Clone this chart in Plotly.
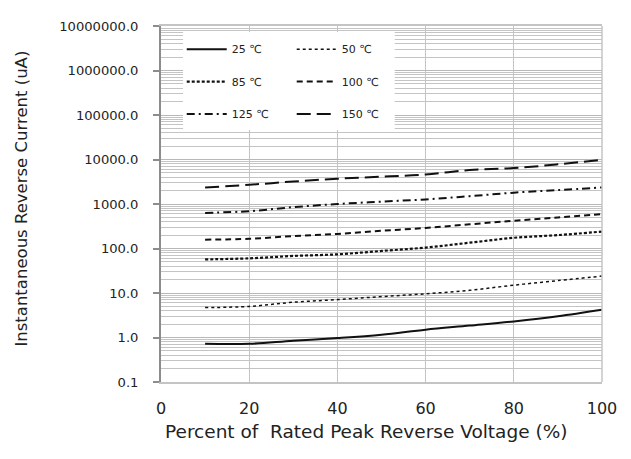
import plotly.graph_objects as go

x_pct = [10, 20, 30, 40, 50, 60, 70, 80, 90, 100]
temps = ["25 ℃", "50 ℃", "85 ℃", "100 ℃", "125 ℃", "150 ℃"]
i_25 = [0.72, 0.72, 0.85, 0.97, 1.15, 1.5, 1.85, 2.3, 3.0, 4.2]
i_50 = [4.7, 5.0, 6.2, 7.1, 8.3, 9.6, 11.5, 15, 19, 24]
i_85 = [57, 60, 68, 74, 88, 105, 135, 174, 200, 240]
i_100 = [158, 165, 190, 213, 250, 290, 350, 420, 500, 590]
i_125 = [630, 690, 850, 1000, 1130, 1270, 1500, 1800, 2050, 2350]
i_150 = [2350, 2700, 3200, 3700, 4100, 4600, 5800, 6400, 7800, 9800]
series = [i_25, i_50, i_85, i_100, i_125, i_150]
dashes = ["solid", "dot", "3px,2px", "6px,4px", "8px,4px,2px,4px", "14px,6px"]
widths = [2, 1.5, 2.2, 2, 2, 2]

y_tickvals = [0.1, 1, 10, 100, 1000, 10000, 100000, 1000000, 10000000]
y_ticktext = ["0.1", "1.0", "10.0", "100.0", "1000.0", "10000.0", "100000.0", "1000000.0", "10000000.0"]
x_tickvals = [0, 20, 40, 60, 80, 100]
x_title = "Percent of  Rated Peak Reverse Voltage (%)"
y_title = "Instantaneous Reverse Current (uA)"

legend_names = ["legend", "legend", "legend2", "legend2", "legend3", "legend3"]

fig = go.Figure()
for name, ys, d, w, lg in zip(temps, series, dashes, widths, legend_names):
    fig.add_trace(go.Scatter(x=x_pct, y=ys, mode="lines", name=name,
                             line=dict(color="#111111", dash=d, width=w, shape="spline"),
                             legend=lg))

font = "DejaVu Sans"
leg_common = dict(orientation="h", bgcolor="rgba(0,0,0,0)", borderwidth=0,
                  font=dict(family=font, size=11, color="#222"),
                  entrywidth=55, entrywidthmode="pixels", itemwidth=40,
                  x=0.047, xanchor="left", yanchor="middle", tracegroupgap=0)

fig.update_layout(
    width=631, height=459,
    margin=dict(l=153, r=37, t=11, b=85),
    paper_bgcolor="white", plot_bgcolor="white",
    font=dict(family=font, color="#222"),
    legend=dict(y=0.935, **leg_common),
    legend2=dict(y=0.844, **leg_common),
    legend3=dict(y=0.753, **leg_common),
    shapes=[dict(type="rect", xref="paper", yref="paper", x0=0.05, x1=0.53,
                 y0=0.708, y1=0.983, fillcolor="white", line=dict(width=0), layer="above")],
    annotations=[
        dict(text=x_title, xref="paper", yref="paper", x=(366 - 161) / 441, y=-(432 - 382) / 363,
             xanchor="center", yanchor="middle", showarrow=False,
             font=dict(family=font, size=18.5, color="#222")),
        dict(text=y_title, xref="paper", yref="paper", x=-(161 - 22) / 441, y=(382 - 195) / 363,
             xanchor="center", yanchor="middle", showarrow=False, textangle=-90,
             font=dict(family=font, size=16.5, color="#222")),
    ],
)
fig.update_xaxes(range=[0, 100], tickvals=x_tickvals, showgrid=True, gridcolor="#c4c4c4",
                 gridwidth=1.3, showline=True, linecolor="#c4c4c4", linewidth=1.5, mirror=True,
                 ticks="", zeroline=False, ticklabelstandoff=11,
                 tickfont=dict(family=font, size=16, color="#222"))
fig.update_yaxes(type="log", range=[-1, 7], tickvals=y_tickvals, ticktext=y_ticktext,
                 showgrid=True, gridcolor="#b8b8b8", gridwidth=1.3,
                 minor=dict(dtick="D1", showgrid=True, gridcolor="#c4c4c4", gridwidth=1.3, ticks=""),
                 showline=True, linecolor="#8c8c8c", linewidth=2, mirror=False,
                 ticks="outside", ticklen=6, tickcolor="#8c8c8c", tickwidth=1.5,
                 ticklabelstandoff=12,
                 tickfont=dict(family=font, size=13.1, color="#222"))
fig.add_shape(type="line", xref="paper", yref="paper", x0=1, x1=1, y0=0, y1=1,
              line=dict(color="#c4c4c4", width=1.5))

fig.write_html("out.html")
